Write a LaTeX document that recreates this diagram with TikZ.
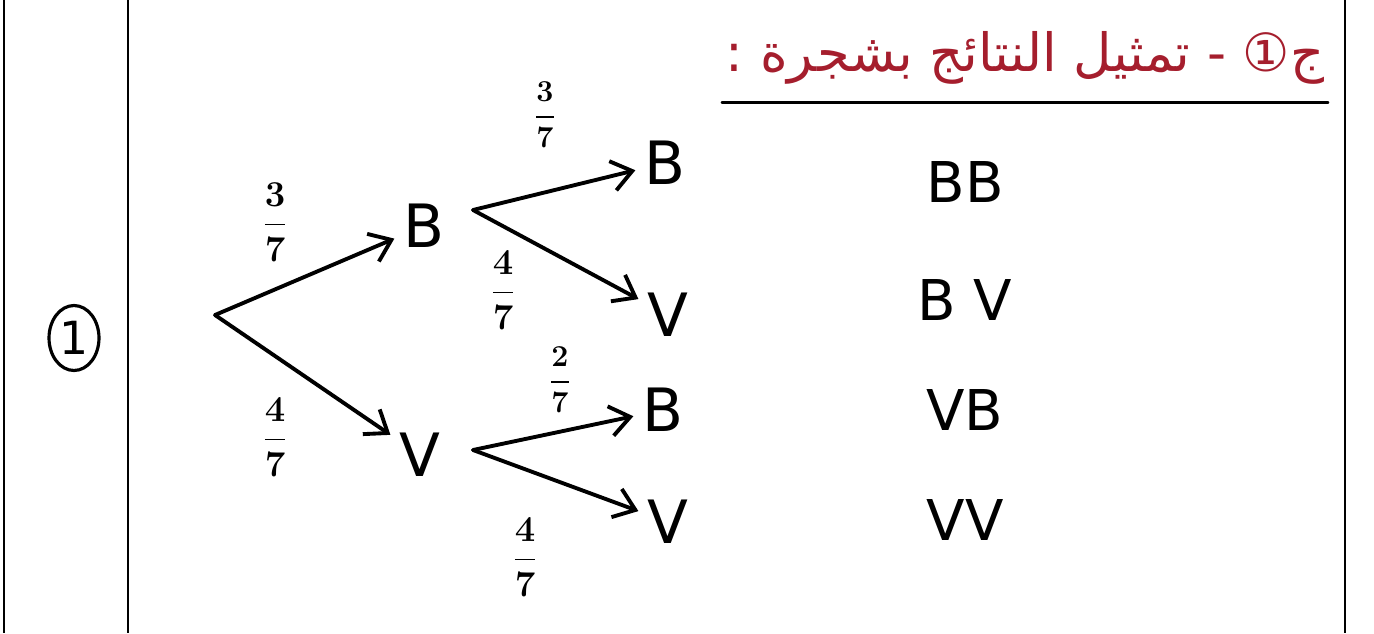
\documentclass[tikz,border=0pt]{standalone}
\usepackage{amsmath}
\usepackage{fontspec}
\setmainfont{DejaVu Sans}
\newfontfamily\arabicfont[Script=Arabic]{DejaVu Sans}
\TeXXeTstate=1
\usepackage{tikz}
\usetikzlibrary{positioning,arrows.meta,shapes.geometric}
\definecolor{inkred}{RGB}{165,30,45}

\begin{document}
\begin{tikzpicture}[x=0.02cm, y=-0.02cm,
  ink/.style={line width=2.2pt, line cap=round, line join=round},
  branch/.style={ink, -{Straight Barb[length=4mm, width=6mm, line width=2.2pt]}},
  leaf/.style={font=\fontsize{34}{40}\selectfont, inner sep=5pt},
  prob/.style={font=\fontsize{20}{24}\selectfont\boldmath, inner sep=1pt},
  smallprob/.style={font=\fontsize{16}{18}\selectfont\boldmath, inner sep=1pt},
  result/.style={font=\fontsize{32}{38}\selectfont, inner sep=0pt},
  frame/.style={line width=1.6pt},
]
\useasboundingbox (0,0) rectangle (1374,633);
\fill[white] (0,0) rectangle (1374,633);

% frame of the answer sheet
\foreach \x in {4,128,1345}{ \draw[frame] (\x,0) -- (\x,633); }

\node[draw, ellipse, line width=1.8pt, minimum width=1.0cm, minimum height=1.3cm,
      inner sep=0pt, font=\fontsize{26}{30}\selectfont] (num) at (74,338) {1};

% heading
\node[text=inkred, font=\arabicfont\fontsize{30}{36}\selectfont,
      inner xsep=2pt, inner ysep=10pt]
  (head) at (1025,58) {\beginR ج① - تمثيل النتائج بشجرة :\endR};
\draw[ink, line width=1.6pt] (head.south west) -- (head.south east);

% tree
\coordinate (root) at (215,315);
\node[leaf] (b) at (424,226) {B};
\node[leaf] (v) at (420,455) {V};
\coordinate (bfork) at (473,210);
\coordinate (vfork) at (473,450);
\node[leaf] (bb) at (665,163) {B};
\node[leaf] (bv) at (668,315) {V};
\node[leaf] (vb) at (663,410) {B};
\node[leaf] (vv) at (668,522) {V};

\foreach \a/\b in {root/b, root/v, bfork/bb, bfork/bv, vfork/vb, vfork/vv}{ \draw[branch] (\a) -- (\b); }

\node[prob] (p1) at (275,222) {$\dfrac{3}{7}$};
\node[prob] (p2) at (275,437) {$\dfrac{4}{7}$};
\node[smallprob] (p3) at (545,115) {$\dfrac{3}{7}$};
\node[prob] (p4) at (503,290) {$\dfrac{4}{7}$};
\node[smallprob] (p5) at (560,380) {$\dfrac{2}{7}$};
\node[prob] (p6) at (525,557) {$\dfrac{4}{7}$};

% outcomes
\node[result] (rbb) at (965,182) {BB};
\node[result] (rbv) at (965,300) {B V};
\node[result] (rvb) at (965,410) {VB};
\node[result] (rvv) at (965,520) {VV};

\end{tikzpicture}
\end{document}
